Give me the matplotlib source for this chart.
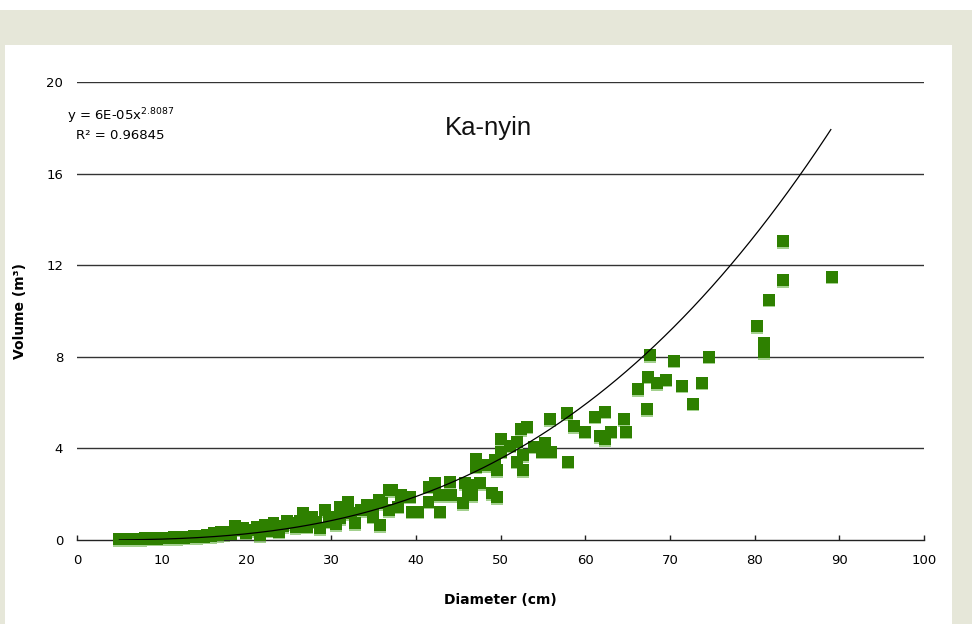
import matplotlib
matplotlib.use("Agg")
import matplotlib.pyplot as plt
import numpy as np
from matplotlib.patches import Rectangle
from matplotlib.transforms import offset_copy

# ---- data ----
diameter = [5.0, 5.2, 5.5, 5.8, 6.0, 6.3, 6.6, 7.0, 7.3, 7.6, 8.0, 8.3, 8.7, 9.0, 9.4, 9.8,
            10.2, 10.6, 11.0, 11.4, 11.8, 12.2, 12.6, 13.0, 13.4, 13.8, 14.2, 14.6, 15.0,
            15.4, 15.8, 16.2, 16.6, 17.0, 17.4, 17.8, 18.2, 18.7, 19.2, 19.6, 20.0, 20.4,
            21.2, 21.6, 22.2, 22.7, 23.2, 23.6, 23.8, 24.3, 24.8, 25.3, 25.8, 26.3, 26.7,
            27.1, 27.7, 28.2, 28.7, 29.3, 29.7, 30.2, 30.6, 31.1, 31.1, 31.6, 32.0, 32.4,
            32.8, 33.5, 34.2, 35.0, 35.0, 35.6, 35.8, 36.0,
            36.8, 36.8, 37.2, 37.9, 38.3, 39.3, 39.5, 40.3, 41.5, 41.5, 42.3, 42.7, 42.9,
            44.0, 44.2, 45.6, 45.8, 46.2, 46.4, 46.6, 47.1, 47.1, 47.6,
            48.2, 49.0, 49.4, 49.6, 49.6, 50.1, 50.1, 51.1, 51.9, 52.0, 52.4, 52.7, 52.7,
            53.1, 54.0, 54.9, 55.3, 55.8, 56.0, 57.9, 58.0, 58.7,
            60.0, 61.2, 61.7, 62.3, 62.3, 63.1, 64.6, 64.8, 66.2, 67.3, 67.4, 67.7, 68.5,
            69.5, 70.5, 71.4, 72.7, 73.8, 74.6, 80.3, 81.1, 81.1, 81.7, 83.3, 83.3, 89.1]
volume = [0.03, 0.05, 0.04, 0.06, 0.03, 0.05, 0.04, 0.06, 0.05, 0.03, 0.07, 0.05, 0.06, 0.08,
          0.05, 0.09, 0.07, 0.10, 0.08, 0.12, 0.09, 0.13, 0.10, 0.14, 0.11, 0.16, 0.13, 0.18,
          0.15, 0.22, 0.17, 0.30, 0.20, 0.33, 0.24, 0.35, 0.28, 0.60, 0.45, 0.51, 0.29, 0.42,
          0.58, 0.22, 0.66, 0.40, 0.73, 0.44, 0.36, 0.60, 0.84, 0.73, 0.55, 0.85, 1.16,
          0.58, 1.02, 0.80, 0.51, 1.31, 0.80, 1.00, 0.70, 1.45, 0.95, 1.20, 1.67, 1.16,
          0.73, 1.30, 1.53, 1.02, 1.53, 1.75, 0.66, 1.60,
          1.31, 2.18, 2.18, 1.45, 1.97, 1.89, 1.24, 1.24, 1.67, 2.33, 2.48, 1.97, 1.24,
          2.55, 1.97, 1.60, 2.48, 2.04, 2.40, 1.97, 3.52, 3.20, 2.48,
          3.28, 2.04, 3.49, 3.06, 1.86, 4.40, 3.86, 4.12, 4.29, 3.42, 4.83, 3.71, 3.06,
          4.95, 4.07, 3.86, 4.22, 5.27, 3.86, 5.53, 3.42, 4.98,
          4.73, 5.38, 4.54, 5.60, 4.41, 4.73, 5.27, 4.73, 6.60, 5.72, 7.13, 8.08, 6.85,
          7.00, 7.83, 6.74, 5.95, 6.87, 8.00, 9.35, 8.60, 8.20, 10.50, 13.05, 11.35, 11.50]

fit_coef = 6e-05
fit_exp = 2.8087
fit_range = [5, 89]
x_ticks = [0, 10, 20, 30, 40, 50, 60, 70, 80, 90, 100]
y_ticks = [0, 4, 8, 12, 16, 20]
title = "Ka-nyin"
eq_text = r"y = 6E-05x$^{2.8087}$"
r2_text = "R² = 0.96845"

# ---- figure ----
fig = plt.figure(figsize=(9.72, 6.24), dpi=100)
fig.patch.set_facecolor("white")
beige = "#e6e7d9"
fig.patches.append(Rectangle((0, 0), 1, 614 / 624, transform=fig.transFigure,
                             facecolor=beige, edgecolor="none", zorder=-10))
fig.patches.append(Rectangle((5 / 972, 0), (952 - 5) / 972, (624 - 45) / 624,
                             transform=fig.transFigure, facecolor="white",
                             edgecolor="none", zorder=-9))

ax = fig.add_axes([77 / 972, 84 / 624, (924 - 77) / 972, (540 - 82) / 624])
ax.set_facecolor("none")
ax.set_xlim(0, 100)
ax.set_ylim(0, 20)

for s in ["top", "right", "left"]:
    ax.spines[s].set_visible(False)
ax.spines["bottom"].set_color("#222222")
ax.spines["bottom"].set_linewidth(1.0)

ax.set_yticks(y_ticks)
ax.set_xticks(x_ticks)
ax.tick_params(axis="x", direction="in", length=3.5, width=1.0, color="#222222",
               labelsize=9.5, pad=10)
ax.tick_params(axis="y", length=0, labelsize=9.5, pad=10)
for t in ax.get_xticklabels() + ax.get_yticklabels():
    t.set_fontfamily("DejaVu Sans")

for yv in y_ticks[1:]:
    ax.axhline(yv, color="#333333", lw=1.0, zorder=1)

# markers: lighter shadow then main green square
shadow = offset_copy(ax.transData, fig=fig, x=0, y=-1.2, units="points")
ax.scatter(diameter, volume, marker="s", s=74, color="#a3d08e", edgecolors="none",
           transform=shadow, zorder=2, clip_on=False)
ax.scatter(diameter, volume, marker="s", s=74, color="#2e8000", edgecolors="none",
           zorder=3, clip_on=False)

xf = np.linspace(fit_range[0], fit_range[1], 300)
ax.plot(xf, fit_coef * xf ** fit_exp, color="black", lw=0.9, zorder=4)

ax.set_xlabel("Diameter (cm)", fontsize=10, fontweight="bold", labelpad=19,
              fontfamily="DejaVu Sans")
ax.set_ylabel("Volume (m³)", fontsize=10, fontweight="bold", labelpad=14,
              fontfamily="DejaVu Sans")

ax.text(0.486, 0.90, title, transform=ax.transAxes, ha="center", va="center",
        fontsize=18.5, fontfamily="Liberation Sans", color="#111111")

fig.text(66.7 / 972, (624 - 120) / 624, eq_text, ha="left", va="baseline",
         fontsize=9.5, fontfamily="DejaVu Sans")
fig.text(76 / 972, (624 - 139) / 624, r2_text, ha="left", va="baseline",
         fontsize=9.5, fontfamily="DejaVu Sans")

fig.savefig("out.png", dpi=100)
